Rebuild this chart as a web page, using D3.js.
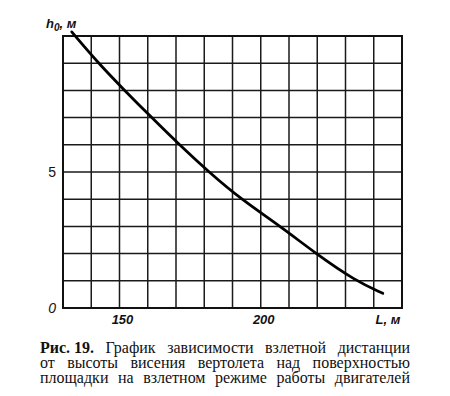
<!DOCTYPE html>
<html>
<head>
<meta charset="utf-8">
<script src="https://cdn.jsdelivr.net/npm/d3@7"></script>
<style>
  body { margin: 0; background: #fff; }
  svg { display: block; }
</style>
</head>
<body>
<svg id="chart"></svg>
<script>
// Data
const lengthValues = [133.1, 142.5, 151.8, 161.4, 171.2, 181.6, 193.0, 207.0, 219.5, 233.5, 243.2];
const heightValues = [10.15, 9, 8, 7, 6, 5, 4, 3, 2, 1, 0.54];
const xTickLabels = [150, 200];
const yTickLabels = [0, 5];
const captionLines = [
    ["Рис. 19.", "График зависимости взлетной дистанции"],
    ["", "от высоты висения вертолета над поверхностью"],
    ["", "площадки на взлетном режиме работы двигателей"]
];

const W = 450, H = 396;
const margin = { top: 36, right: 48, bottom: 88, left: 63 };
const width = W - margin.left - margin.right;
const height = H - margin.top - margin.bottom;

const svg = d3.select("#chart").attr("width", W).attr("height", H);
const g = svg.append("g").attr("transform", `translate(${margin.left},${margin.top})`);

const xScale = d3.scaleLinear().domain([130, 250]).range([0, width]);
const yScale = d3.scaleLinear().domain([0, 10]).range([height, 0]);

// grid (one path for all lines)
const xGrid = d3.range(130, 251, 10);
const yGrid = d3.range(0, 11, 1);
const gridPath = d3.path();
xGrid.forEach(v => { gridPath.moveTo(xScale(v), 0); gridPath.lineTo(xScale(v), height); });
yGrid.forEach(v => { gridPath.moveTo(0, yScale(v)); gridPath.lineTo(width, yScale(v)); });
g.append("path")
    .attr("d", gridPath.toString())
    .attr("fill", "none")
    .attr("stroke", "#1a1a1a")
    .attr("stroke-width", 1.5);

// frame a little heavier
g.append("rect")
    .attr("width", width).attr("height", height)
    .attr("fill", "none").attr("stroke", "#111").attr("stroke-width", 2);

// tick labels
const tickFont = "'Liberation Sans', Arial, sans-serif";
g.selectAll("text.xl")
    .data(xTickLabels)
    .join("text")
    .attr("class", "xl")
    .attr("x", d => xScale(d) + 3).attr("y", height + 16)
    .attr("text-anchor", "middle")
    .attr("font-family", tickFont).attr("font-style", "italic").attr("font-weight", "bold")
    .attr("font-size", 13).attr("fill", "#111")
    .text(d => d);

g.selectAll("text.yl")
    .data(yTickLabels)
    .join("text")
    .attr("class", "yl")
    .attr("x", -7).attr("y", d => yScale(d) + 5)
    .attr("text-anchor", "end")
    .attr("font-family", tickFont).attr("font-style", d => d === 0 ? "italic" : "normal")
    .attr("font-size", 14).attr("fill", "#111")
    .text(d => d);

// axis titles
const yt = svg.append("text")
    .attr("x", 46).attr("y", 28)
    .attr("font-family", tickFont).attr("font-style", "italic").attr("font-weight", "bold")
    .attr("font-size", 13).attr("fill", "#111");
yt.append("tspan").text("h");
yt.append("tspan").attr("dy", 3).attr("font-size", 10).text("0");
yt.append("tspan").attr("dy", -3).text(", м");

svg.append("text")
    .attr("x", 388).attr("y", margin.top + height + 16)
    .attr("text-anchor", "middle")
    .attr("font-family", tickFont).attr("font-style", "italic").attr("font-weight", "bold")
    .attr("font-size", 13).attr("fill", "#111")
    .text("L, м");

// curve
const pts = lengthValues.map((d, i) => [d, heightValues[i]]);
const curve = d3.line()
    .x(d => xScale(d[0])).y(d => yScale(d[1]))
    .curve(d3.curveBasis);

g.append("path")
    .datum(pts)
    .attr("d", curve)
    .attr("fill", "none")
    .attr("stroke", "#000")
    .attr("stroke-width", 2.8)
    .attr("stroke-linecap", "round");

// caption, justified word by word
const capLeft = 40, capRight = 410;
const capBase = [353, 368, 383];
const capFont = "'Liberation Serif', 'DejaVu Serif', serif";

captionLines.forEach((ln, i) => {
    const words = [];
    if (ln[0]) words.push({ t: ln[0], bold: true });
    ln[1].split(" ").forEach(w => words.push({ t: w, bold: false }));
    const nodes = words.map(w => svg.append("text")
        .attr("y", capBase[i])
        .attr("font-family", capFont)
        .attr("font-size", 16)
        .attr("font-weight", w.bold ? "bold" : "normal")
        .attr("fill", "#111")
        .text(w.t));
    const widths = nodes.map(n => n.node().getComputedTextLength());
    const total = d3.sum(widths);
    let gap = (capRight - capLeft - total) / (nodes.length - 1);
    // squeeze words if the line would overflow
    let k = 1;
    if (gap < 3.5) {
        gap = 3.5;
        k = (capRight - capLeft - gap * (nodes.length - 1)) / total;
    }
    let cx = capLeft;
    nodes.forEach((n, j) => {
        const w = widths[j] * k;
        n.attr("x", cx);
        if (k !== 1) n.attr("textLength", w).attr("lengthAdjust", "spacingAndGlyphs");
        cx += w + gap;
    });
});
</script>
</body>
</html>
